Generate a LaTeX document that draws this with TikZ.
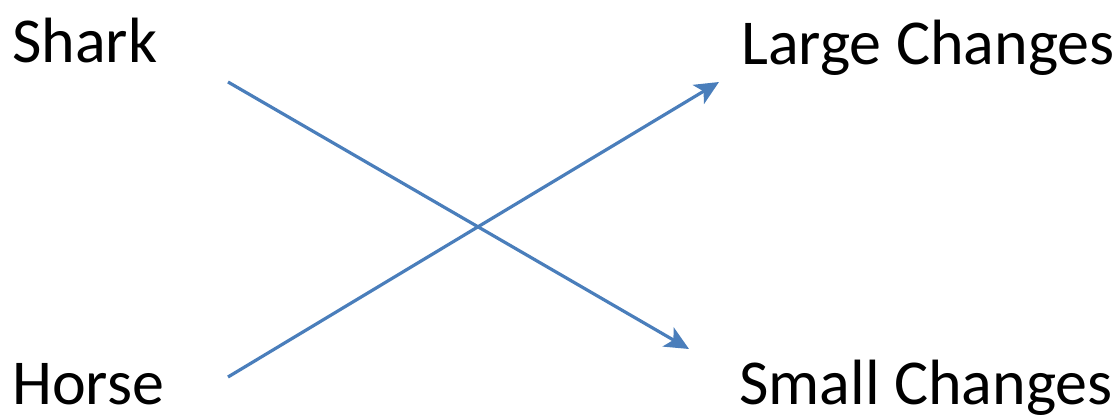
\documentclass[tikz,border=0pt]{standalone}
\usepackage{fontspec}
\setmainfont{Carlito}
\usepackage{tikz}
\usetikzlibrary{arrows.meta, positioning, calc}
\usepackage{xcolor}
\definecolor{linkblue}{HTML}{4A7EBB}

\begin{document}
\begin{tikzpicture}[x=1pt, y=-1pt,
    label/.style={inner sep=0pt, anchor=base west,
                  font=\fontsize{64}{70}\selectfont},
    link/.style={draw=linkblue, line width=3.2pt,
                 -{Stealth[length=24pt, width=22pt, inset=6pt]}}]
      \useasboundingbox (0,0) rectangle (1119,418);
      \node[label] (shark) at (12, 62) {Shark};
      \node[label] (horse) at (12, 404) {Horse};
      \node[label] (large) at (741, 64) {Large Changes};
      \node[label] (small) at (739, 404) {Small Changes};
      % free ends of the two arrows
      \coordinate (sharkout) at ($(shark.base west)+(216,20)$);
      \coordinate (horseout) at ($(horse.base west)+(216,-27)$);
      \coordinate (largein) at ($(large.base west)+(-22,18)$);
      \coordinate (smallin) at ($(small.base west)+(-50,-55)$);
      \draw[link] (sharkout) -- (smallin);
      \draw[link] (horseout) -- (largein);
    \end{tikzpicture}
\end{document}
